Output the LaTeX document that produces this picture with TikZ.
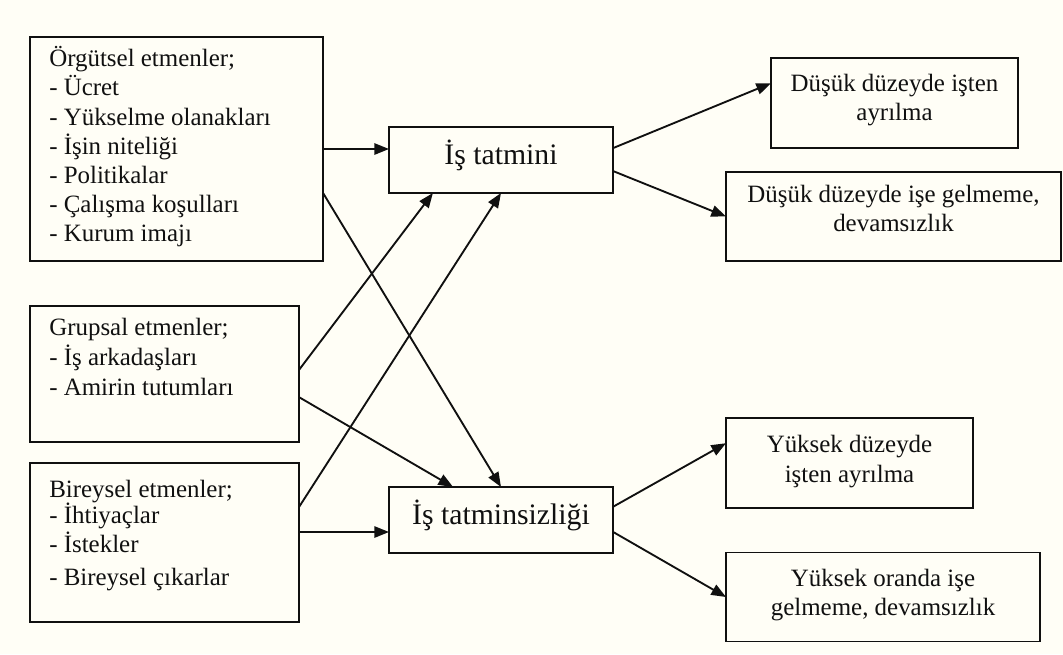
\documentclass[tikz,border=0pt]{standalone}
\usepackage{fontspec}
\setmainfont{Liberation Serif}
\usetikzlibrary{arrows.meta,calc}
\definecolor{bg}{HTML}{FFFEF6}
\definecolor{ink}{HTML}{101010}
\begin{document}
\begin{tikzpicture}[x=0.75pt,y=-0.75pt,
  box/.style={draw=ink,line width=1.4pt,fill=bg,inner sep=0pt,outer sep=0pt},
  small/.style={font=\fontsize{18.7pt}{21.75pt}\selectfont,text=ink,inner sep=0pt},
  big/.style={font=\fontsize{22.3pt}{26pt}\selectfont,text=ink,inner sep=0pt},
  conn/.style={draw=ink,line width=1.4pt,-{Triangle[length=11pt,width=8.5pt]}}]
\useasboundingbox[fill=bg] (0,0) rectangle (1063,654);

% boxes
\node[box,minimum width=219.75pt,minimum height=168pt] (A) at (176.5,149) {};
\node[box,minimum width=201.75pt,minimum height=102pt] (B) at (164.5,374) {};
\node[box,minimum width=201.75pt,minimum height=119.25pt] (C) at (164.5,542.5) {};
\node[box,minimum width=168pt,minimum height=49.5pt] (D) at (501,160) {};
\node[box,minimum width=168pt,minimum height=49.5pt] (E) at (501,520) {};
\node[box,minimum width=185.25pt,minimum height=67.5pt] (F) at (894.5,103) {};
\node[box,minimum width=251.25pt,minimum height=66.75pt] (G) at (893.5,216.5) {};
\node[box,minimum width=185.25pt,minimum height=67.5pt] (H) at (849.5,463) {};
\node[box,minimum width=235.5pt,minimum height=66.75pt] (I) at (883,597) {};

% texts
\node[small,anchor=base west] (At) at (49,66.7) {\fontsize{18.7pt}{21.9pt}\selectfont\parbox[t]{210pt}{\raggedright
Örgütsel etmenler;\\
- Ücret\\
- Yükselme olanakları\\
- İşin niteliği\\
- Politikalar\\
- Çalışma koşulları\\
- Kurum imajı}};
\node[small,anchor=base west] (Bt) at (49,335) {\parbox[t]{200pt}{\raggedright
Grupsal etmenler;\\[0.75pt]
- İş arkadaşları\\[0.75pt]
- Amirin tutumları}};
\node[small,anchor=base west] (Ct) at (49,497) {\parbox[t]{200pt}{\raggedright
Bireysel etmenler;\\[-2.25pt]
- İhtiyaçlar\\
- İstekler\\[3pt]
- Bireysel çıkarlar}};
\node[big,anchor=base] (Dt) at (501,164) {İş tatmini};
\node[big,anchor=base] (Et) at (501,524) {İş tatminsizliği};
\node[small,anchor=base] (Ft) at (894.5,91) {\parbox[t]{240pt}{\centering Düşük düzeyde işten\\ayrılma}};
\node[small,anchor=base] (Gt) at (893.5,202) {\parbox[t]{240pt}{\centering Düşük düzeyde işe gelmeme,\\devamsızlık}};
\node[small,anchor=base] (Ht) at (849.5,452) {\parbox[t]{240pt}{\centering Yüksek düzeyde\\[0.75pt]işten ayrılma}};
\node[small,anchor=base] (It) at (883,586) {\parbox[t]{240pt}{\centering Yüksek oranda işe\\gelmeme, devamsızlık}};

% connectors
\draw[conn] (A.east) -- (A.east -| D.west);
\draw[conn] ($(A.north east)!0.696!(A.south east)$) -- (E.north);
\draw[conn] ($(B.north east)!0.47!(B.south east)$) -- ($(D.south west)!0.196!(D.south east)$);
\draw[conn] ($(B.north east)!0.67!(B.south east)$) -- ($(E.north west)!0.286!(E.north east)$);
\draw[conn] ($(C.north east)!0.277!(C.south east)$) -- (D.south);
\coordinate (c2) at ($(C.north east)!0.434!(C.south east)$);
\draw[conn] (c2) -- (c2 -| E.west);
\draw[conn] ($(D.north east)!0.32!(D.south east)$) -- ($(F.north west)!0.28!(F.south west)$);
\draw[conn] ($(D.north east)!0.667!(D.south east)$) -- (G.west);
\draw[conn] ($(E.north east)!0.3!(E.south east)$) -- ($(H.north west)!0.28!(H.south west)$);
\draw[conn] ($(E.north east)!0.68!(E.south east)$) -- (I.west);
\end{tikzpicture}
\end{document}
